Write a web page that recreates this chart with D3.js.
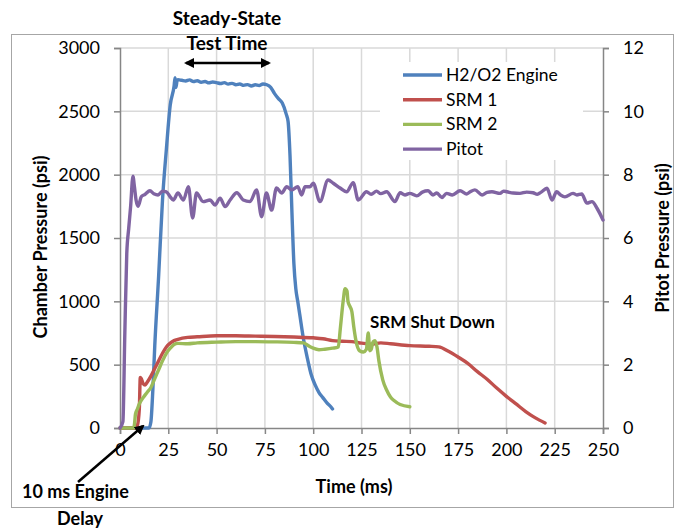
<!DOCTYPE html>
<html>
<head>
<meta charset="utf-8">
<script src="https://cdn.jsdelivr.net/npm/d3@7"></script>
<style>
  body { margin: 0; background: #fff; }
  text { font-family: Lato, "Open Sans", sans-serif; fill: #000; }
  .bold { font-weight: bold; }
</style>
</head>
<body>
<script>
// H2/O2 engine chamber pressure (psi)
var engineT = [0, 15, 16, 17, 18, 20, 22, 24, 26, 28, 28.5, 29, 29.5, 30, 32, 34, 36, 38, 40, 42, 44, 46, 48, 50, 52, 54, 56, 58, 60, 62, 64, 66, 68, 70, 72, 74, 76, 78, 80, 82, 84, 86, 87, 88, 89, 90, 91, 92, 93, 95, 97, 99, 101, 103, 105, 107, 109, 110];
var engineP = [0, 0, 50, 300, 650, 1200, 1800, 2200, 2550, 2700, 2765, 2690, 2740, 2750, 2745, 2740, 2748, 2735, 2742, 2730, 2736, 2725, 2732, 2726, 2720, 2727, 2715, 2721, 2710, 2716, 2705, 2711, 2700, 2710, 2704, 2716, 2710, 2690, 2640, 2600, 2565, 2480, 2420, 2150, 1700, 1300, 1100, 1000, 900, 700, 550, 420, 340, 280, 240, 200, 170, 150];

// SRM 1 chamber pressure (psi)
var srm1T = [0, 8, 9, 10, 10.5, 11, 12, 13, 14, 16, 18, 20, 22, 24, 26, 28, 30, 35, 40, 50, 60, 70, 80, 90, 100, 105, 110, 115, 120, 125, 130, 135, 140, 150, 160, 165, 170, 175, 180, 185, 190, 195, 200, 205, 210, 215, 220];
var srm1P = [0, 0, 20, 150, 400, 390, 350, 340, 360, 410, 470, 530, 590, 640, 670, 690, 700, 715, 720, 728, 728, 725, 722, 718, 712, 705, 690, 685, 682, 670, 662, 672, 665, 650, 645, 640, 605, 560, 510, 445, 385, 315, 250, 190, 130, 80, 40];

// SRM 2 chamber pressure (psi)
var srm2T = [0, 7, 7.5, 8, 9, 10, 12, 14, 16, 18, 20, 22, 24, 26, 28, 30, 35, 40, 50, 60, 70, 80, 90, 95, 98, 100, 103, 106, 110, 113, 114, 115.5, 116.5, 117.5, 118, 119, 120, 121, 122, 124, 126, 127.5, 128.5, 129.3, 130, 131, 132, 133, 134, 136, 138, 140, 142, 145, 150];
var srm2P = [0, 0, 30, 110, 150, 190, 240, 280, 320, 390, 460, 530, 590, 630, 660, 668, 665, 672, 678, 682, 682, 680, 676, 672, 645, 630, 618, 622, 630, 640, 780, 1000, 1100, 1080, 1000, 960, 920, 800, 700, 610, 600, 620, 750, 610, 620, 680, 690, 640, 530, 380, 300, 245, 215, 185, 168];

// Pitot pressure (psi, right axis)
var pitotT = [0, 1.5, 2.5, 3.5, 4.5, 5.5, 6.7, 7.5, 8.3, 9.4, 11, 13, 15.5, 17.5, 19.7, 22, 24, 26, 27.6, 30, 32.8, 35.4, 37.6, 39.6, 43, 46.6, 49.2, 51.8, 54.4, 57, 60.5, 63.8, 67.3, 70.7, 73.3, 75.8, 78.5, 81, 83.7, 86.3, 88.8, 92, 94, 95.8, 98.4, 100, 103.5, 107.7, 110.4, 113.9, 117.3, 120.7, 123.3, 127.6, 130, 132.8, 135, 138, 142.3, 145, 147.5, 150, 153.6, 156.5, 159.5, 162, 164, 166.6, 169, 172, 176, 179.5, 181.5, 183.7, 187.4, 190, 192.5, 196.7, 198.5, 200.3, 203.5, 207, 210.5, 213.8, 216, 218, 221, 223.6, 226, 228, 230.3, 234.5, 236.5, 239, 241.7, 244.3, 246.9, 250];
var pitotP = [0, 0.2, 3, 5.5, 6.3, 7, 7.95, 7.6, 7.2, 7.0, 7.3, 7.38, 7.49, 7.4, 7.36, 7.48, 7.46, 7.3, 7.2, 7.42, 7.2, 7.62, 6.63, 7.42, 7.15, 7.2, 7.04, 7.26, 6.99, 7.2, 7.43, 7.2, 7.15, 7.52, 6.67, 7.42, 6.88, 7.58, 7.42, 7.62, 7.52, 7.62, 7.36, 7.62, 7.62, 7.73, 7.15, 7.83, 7.73, 7.58, 7.46, 7.75, 7.2, 7.46, 7.38, 7.48, 7.4, 7.46, 7.15, 7.43, 7.36, 7.41, 7.33, 7.45, 7.49, 7.36, 7.42, 7.28, 7.41, 7.36, 7.49, 7.39, 7.47, 7.52, 7.36, 7.44, 7.46, 7.41, 7.48, 7.46, 7.42, 7.41, 7.45, 7.43, 7.38, 7.45, 7.57, 7.2, 7.46, 7.36, 7.3, 7.41, 7.36, 7.39, 7.1, 7.15, 6.94, 6.57];

var seriesNames = ['H2/O2 Engine', 'SRM 1', 'SRM 2', 'Pitot'];
var seriesColors = ['#4f81bd', '#c0504d', '#9bbb59', '#8064a2'];
var xTicks = [0, 25, 50, 75, 100, 125, 150, 175, 200, 225, 250];
var yTicks = [0, 500, 1000, 1500, 2000, 2500, 3000];
var y2Ticks = [0, 2, 4, 6, 8, 10, 12];

function drawChart(){
    var width = 674, height = 529;
    var pLeft = 120, pRight = 603, pTop = 48, pBottom = 428;

    var svg = d3.select('body').append('svg')
        .attr('width', width)
        .attr('height', height);

    //outer chart frame
    svg.append('rect')
        .attr('x', 11.5).attr('y', 34.5)
        .attr('width', 662).attr('height', 473)
        .attr('fill', 'none').attr('stroke', '#a6a6a6').attr('stroke-width', 1);

    var x = d3.scaleLinear().domain([0, 250]).range([pLeft, pRight]);
    var y = d3.scaleLinear().domain([0, 3000]).range([pBottom, pTop]);
    var y2 = d3.scaleLinear().domain([0, 12]).range([pBottom, pTop]);

    //gridlines
    var grid = svg.append('g').attr('stroke', '#d9d9d9').attr('stroke-width', 1.5);
    grid.selectAll('.vg').data(xTicks.slice(1, -1)).enter().append('line')
        .attr('x1', function(d){ return x(d); }).attr('x2', function(d){ return x(d); })
        .attr('y1', pTop).attr('y2', pBottom);
    grid.selectAll('.hg').data(yTicks.slice(1)).enter().append('line')
        .attr('x1', pLeft).attr('x2', pRight)
        .attr('y1', function(d){ return y(d); }).attr('y2', function(d){ return y(d); });

    //axes
    var axisColor = '#868686';
    var gx = svg.append('g').attr('transform', 'translate(0,' + pBottom + ')')
        .call(d3.axisBottom(x).tickValues(xTicks).tickSize(6).tickPadding(9).tickFormat(d3.format('d')));
    var gy = svg.append('g').attr('transform', 'translate(' + pLeft + ',0)')
        .call(d3.axisLeft(y).tickValues(yTicks).tickSize(6).tickPadding(14).tickFormat(d3.format('d')));
    var gy2 = svg.append('g').attr('transform', 'translate(' + pRight + ',0)')
        .call(d3.axisRight(y2).tickValues(y2Ticks).tickSize(6).tickPadding(14).tickFormat(d3.format('d')));
    [gx, gy, gy2].forEach(function(g){
        g.select('.domain').attr('stroke', axisColor).attr('stroke-width', 1.5);
        g.selectAll('.tick line').attr('stroke', axisColor).attr('stroke-width', 1.5);
        g.selectAll('.tick text').attr('font-size', 18).attr('font-family', 'Lato, sans-serif').attr('fill', '#000');
    });

    //legend background hides the grid
    svg.append('rect').attr('x', 380).attr('y', 62).attr('width', 203).attr('height', 98).attr('fill', '#fff');

    //series
    var line = d3.line()
        .x(function(d){ return x(d[0]); })
        .curve(d3.curveMonotoneX);
    function zip(a, b){ return a.map(function(t, i){ return [t, b[i]]; }); }
    var data = [zip(engineT, engineP), zip(srm1T, srm1P), zip(srm2T, srm2P), zip(pitotT, pitotP)];
    data.forEach(function(s, i){
        var sc = i == 3 ? y2 : y;
        svg.append('path')
            .datum(s)
            .attr('fill', 'none')
            .attr('stroke', seriesColors[i])
            .attr('stroke-width', 3.4)
            .attr('stroke-linejoin', 'round')
            .attr('stroke-linecap', 'round')
            .attr('d', line.y(function(d){ return sc(d[1]); }));
    });

    //legend
    var legend = svg.selectAll('.legend').data(seriesNames).enter().append('g')
        .attr('transform', function(d, i){ return 'translate(403,' + (75 + i * 24.7) + ')'; });
    legend.append('line').attr('x1', 0).attr('x2', 39)
        .attr('stroke', function(d, i){ return seriesColors[i]; }).attr('stroke-width', 3.4);
    legend.append('text').attr('x', 43).attr('y', 6).attr('font-size', 17.5)
        .text(function(d){ return d; });

    //axis titles
    svg.append('text').attr('class', 'bold').attr('font-size', 18)
        .attr('text-anchor', 'middle')
        .attr('transform', 'translate(47,247) rotate(-90)')
        .text('Chamber Pressure (psi)');
    svg.append('text').attr('class', 'bold').attr('font-size', 18)
        .attr('text-anchor', 'middle')
        .attr('transform', 'translate(669,238) rotate(-90)')
        .text('Pitot Pressure (psi)');
    svg.append('text').attr('class', 'bold').attr('font-size', 18)
        .attr('text-anchor', 'middle').attr('x', 354).attr('y', 493)
        .text('Time (ms)');

    //annotations
    svg.append('defs').append('marker')
        .attr('id', 'head').attr('viewBox', '0 0 10 10')
        .attr('refX', 8).attr('refY', 5)
        .attr('markerWidth', 4).attr('markerHeight', 4)
        .attr('orient', 'auto-start-reverse')
        .append('path').attr('d', 'M0,0 L10,5 L0,10 z').attr('fill', '#000');
    svg.append('line').attr('x1', 186).attr('y1', 63).attr('x2', 269).attr('y2', 63)
        .attr('stroke', '#000').attr('stroke-width', 2.5)
        .attr('marker-start', 'url(#head)').attr('marker-end', 'url(#head)');
    svg.append('text').attr('class', 'bold').attr('font-size', 19)
        .attr('text-anchor', 'middle').attr('x', 227).attr('y', 25).text('Steady-State');
    svg.append('text').attr('class', 'bold').attr('font-size', 19)
        .attr('text-anchor', 'middle').attr('x', 227).attr('y', 50).text('Test Time');
    svg.append('text').attr('class', 'bold').attr('font-size', 17)
        .attr('x', 370).attr('y', 328).text('SRM Shut Down');
    svg.append('line').attr('x1', 78).attr('y1', 482).attr('x2', 143).attr('y2', 426)
        .attr('stroke', '#000').attr('stroke-width', 2.5)
        .attr('marker-end', 'url(#head)');
    svg.append('text').attr('class', 'bold').attr('font-size', 18)
        .attr('x', 22).attr('y', 498).text('10 ms Engine');
    svg.append('text').attr('class', 'bold').attr('font-size', 18)
        .attr('x', 57).attr('y', 525).text('Delay');
}

window.onload = drawChart;
</script>
</body>
</html>
